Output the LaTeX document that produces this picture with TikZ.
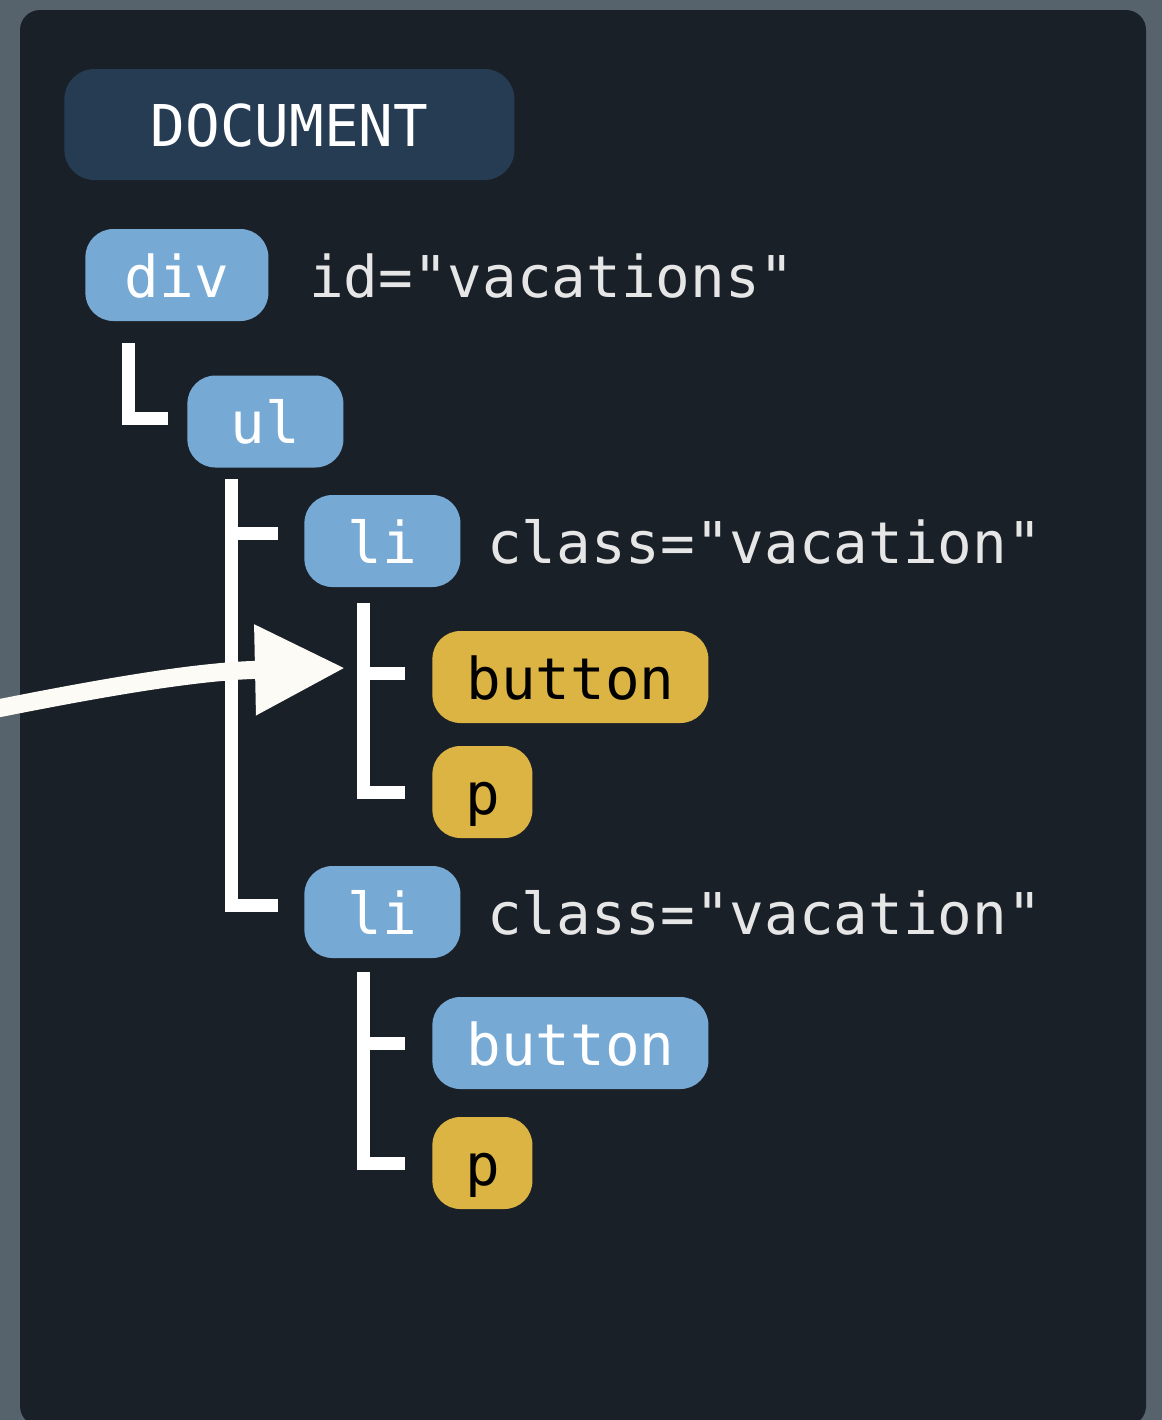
\documentclass[tikz,border=0pt]{standalone}
\usepackage{fontspec}
\usepackage{xcolor}
\usepackage{tikz}
\usetikzlibrary{arrows.meta}
\usetikzlibrary{calc}
\usetikzlibrary{positioning}
\newfontfamily\codefont{DejaVu Sans Mono}
\definecolor{slate}{HTML}{56636D}
\definecolor{panel}{HTML}{1A2028}
\definecolor{docblue}{HTML}{263C53}
\definecolor{tagblue}{HTML}{76A9D4}
\definecolor{tagyellow}{HTML}{DBB443}
\definecolor{attrgrey}{HTML}{E6E6E6}
\definecolor{chalk}{HTML}{FCFBF6}

\begin{document}
\begin{tikzpicture}[x=0.5pt, y=-0.5pt,
  code/.style={inner sep=0pt, text height=22pt, text depth=0pt,
    font=\codefont\fontsize{28.8}{34}\selectfont},
  tag/.style={code, fill=tagblue, text=white, rounded corners=14pt,
    minimum height=46pt, anchor=west},
  hot/.style={tag, fill=tagyellow, text=black},
  attr/.style={code, text=attrgrey},
  branch/.style={draw=white, line width=6.5pt},
  pointer/.style={draw=chalk, line width=9pt,
    -{Triangle[length=45pt, width=43pt]}}]
\useasboundingbox (0,0) rectangle (1162,1420);
\fill[slate] (0,0) rectangle (1162,1420);
\fill[panel, rounded corners=10pt] (20,10) rectangle (1146,1426);
%
\node[tag, fill=docblue, rounded corners=15pt, minimum width=225pt,
  minimum height=55.5pt] (docbox) at (64,124.5) {DOCUMENT};
\node[tag, minimum width=91.5pt] (divtag) at (85,275) {div};
\node[attr, right=20pt of divtag] (idattr) {id="vacations"};
\node[tag, minimum width=78pt] (ultag) at (187,421.5) {ul};
\node[tag, minimum width=78pt] (litagA) at (304,541) {li};
\node[attr, right=13pt of litagA] (classA) {class="vacation"};
\node[hot, minimum width=138pt] (btnA) at (432,677) {button};
\node[hot, minimum width=50pt] (parA) at (432,792) {p};
\node[tag, minimum width=78pt] (litagB) at (304,912) {li};
\node[attr, right=13pt of litagB] (classB) {class="vacation"};
\node[tag, minimum width=138pt] (btnB) at (432,1043) {button};
\node[hot, minimum width=50pt] (parB) at (432,1163) {p};
%
\draw[branch] ([xshift=21.5pt,yshift=-11pt]divtag.south west)
  |- ([xshift=-9.5pt,yshift=1.5pt]ultag.west);
\coordinate (ulroot) at ([xshift=22pt,yshift=-5.5pt]ultag.south west);
\draw[branch] (ulroot) |- ([xshift=-13pt,yshift=3.5pt]litagB.west);
\draw[branch] ([yshift=4pt]ulroot |- litagA.west)
  -- ([xshift=-13pt,yshift=4pt]litagA.west);
\coordinate (lirootA) at ([xshift=29.5pt,yshift=-8pt]litagA.south west);
\draw[branch] (lirootA) |- ([xshift=-13.5pt]parA.west);
\draw[branch] ([yshift=2pt]lirootA |- btnA.west)
  -- ([xshift=-13.5pt,yshift=2pt]btnA.west);
\coordinate (lirootB) at ([xshift=29.5pt,yshift=-7pt]litagB.south west);
\draw[branch] (lirootB) |- ([xshift=-13.5pt]parB.west);
\draw[branch] (lirootB |- btnB.west) -- ([xshift=-13.5pt]btnB.west);
%
\coordinate (offpage) at (-10,710);
\draw[pointer] (offpage) .. controls (110,686) and (200,671)
  .. ($(btnA.west)+(-87,-9)$);
\end{tikzpicture}
\end{document}
